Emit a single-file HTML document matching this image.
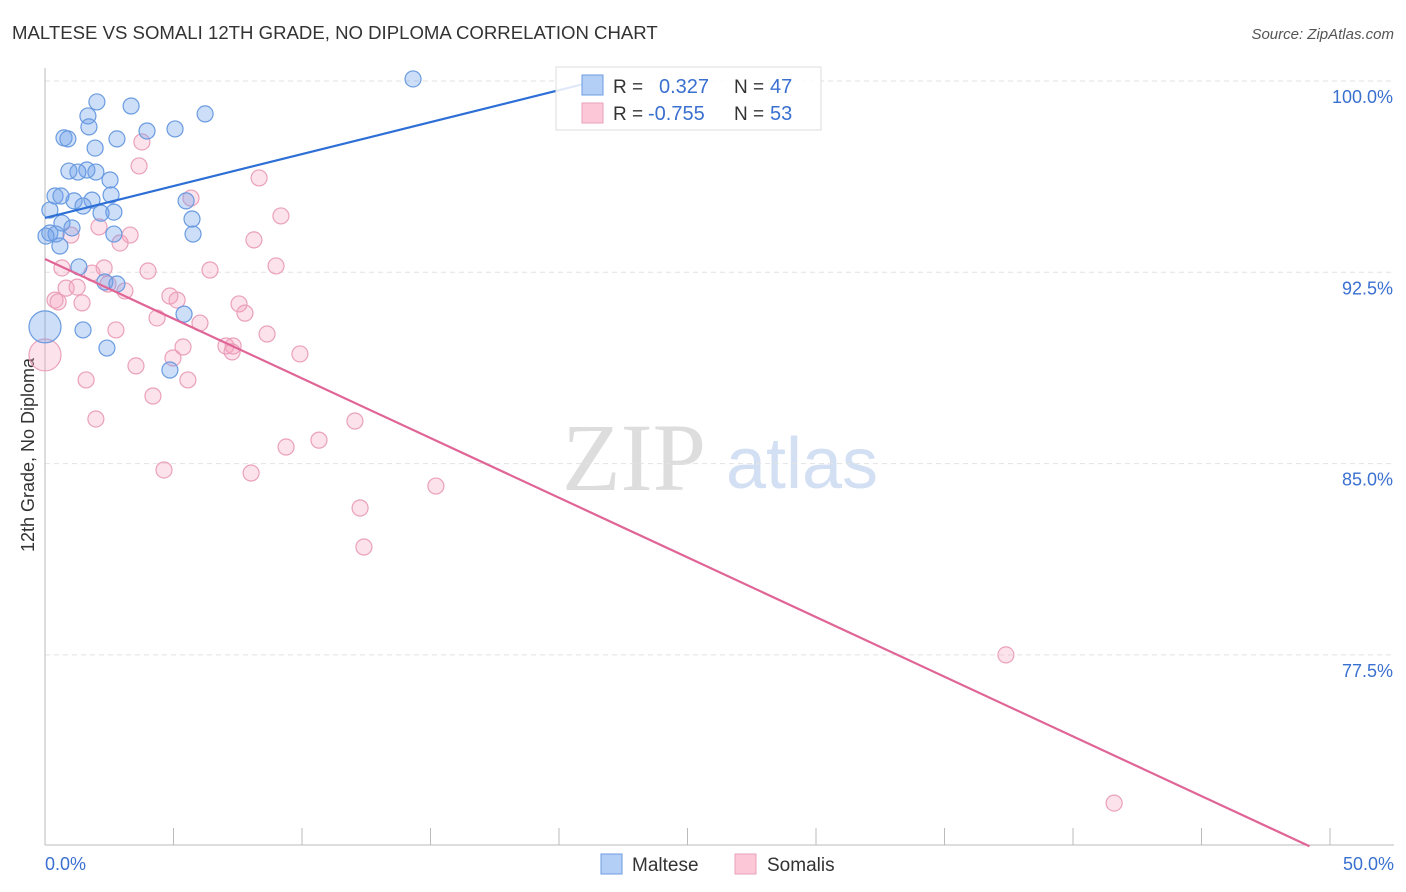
<!DOCTYPE html>
<html><head><meta charset="utf-8"><style>
body{margin:0;background:#fff;font-family:"Liberation Sans",sans-serif;}
svg{display:block}
</style></head><body>
<svg id="c" width="1406" height="892">
<text x="12" y="39" font-size="18.6" fill="#333">MALTESE VS SOMALI 12TH GRADE, NO DIPLOMA CORRELATION CHART</text>
<text x="1394" y="39" font-size="15" fill="#555" font-style="italic" text-anchor="end">Source: ZipAtlas.com</text>
<text x="34" y="455" font-size="18" fill="#333" transform="rotate(-90 34 455)" text-anchor="middle">12th Grade, No Diploma</text>
<text x="634" y="490" font-size="96" fill="#ddd" font-family="Liberation Serif,serif" text-anchor="middle">ZIP</text>
<text x="802" y="488" font-size="72" fill="#d3e0f3" text-anchor="middle">atlas</text>
<g id="grid"></g><g id="marks"></g>
<g>
<rect x="556" y="67" width="265" height="63" fill="#fff" fill-opacity="0.85" stroke="#ddd"/>
<rect x="582" y="75" width="21" height="20" fill="#b4cff5" stroke="#6a9be0"/>
<rect x="582" y="103" width="21" height="20" fill="#fcc8d8" stroke="#eaa0ba"/>
<text x="613" y="93" font-size="19" fill="#333">R = </text><text x="659" y="93" font-size="20" fill="#3a70d0">0.327</text>
<text x="734" y="93" font-size="19" fill="#333">N = </text><text x="770" y="93" font-size="20" fill="#3a70d0">47</text>
<text x="613" y="120" font-size="19" fill="#333">R = </text><text x="648" y="120" font-size="20" fill="#3a70d0">-0.755</text>
<text x="734" y="120" font-size="19" fill="#333">N = </text><text x="770" y="120" font-size="20" fill="#3a70d0">53</text>
</g>
<g>
<rect x="601" y="854" width="21" height="20" fill="#b4cff5" stroke="#6a9be0"/>
<text x="632" y="871" font-size="19" fill="#333">Maltese</text>
<rect x="735" y="854" width="21" height="20" fill="#fcc8d8" stroke="#eaa0ba"/>
<text x="767" y="871" font-size="19" fill="#333">Somalis</text>
</g>
</svg>
<script>
const yTicks=[100,92.5,85,77.5];
const yTickLabels=["100.0%","92.5%","85.0%","77.5%"];
const xTickVals=[0,5,10,15,20,25,30,35,40,45,50];
const blueX=[14.32,2.02,3.35,1.67,6.23,1.71,3.97,5.06,0.74,0.89,2.80,1.95,0.93,1.63,1.28,1.98,2.53,0.39,0.62,2.57,1.13,1.83,5.49,1.48,2.68,2.18,5.72,0.66,1.05,0.19,0.43,5.76,2.68,0.58,1.32,2.33,2.80,5.41,1.48,0,2.41,4.86,0.19,0.04];
const blueY=[100.08,99.18,99.02,98.63,98.71,98.20,98.04,98.12,97.77,97.73,97.73,97.37,96.47,96.51,96.43,96.43,96.12,95.49,95.49,95.53,95.30,95.33,95.30,95.10,94.86,94.82,94.59,94.43,94.24,94.04,94.00,94.00,94.00,93.53,92.71,92.12,92.04,90.86,90.24,90.36,89.53,88.67,94.94,93.92];
const pinkX=[3.77,3.66,8.33,5.68,9.18,2.10,1.01,3.31,8.13,2.92,0.66,4.01,6.42,8.99,2.30,1.83,0.82,1.25,2.45,3.11,0.39,1.44,4.86,5.14,7.55,7.78,4.36,6.03,2.76,8.64,7.04,7.32,7.28,5.37,9.92,0,4.98,3.54,1.60,5.56,4.20,1.98,12.06,10.66,9.38,4.63,8.02,15.21,12.26,12.41,37.39,41.60,0.51];
const pinkY=[97.61,96.67,96.20,95.41,94.71,94.28,93.96,93.96,93.77,93.65,92.67,92.55,92.59,92.75,92.67,92.47,91.88,91.92,92.04,91.77,91.41,91.30,91.57,91.41,91.26,90.90,90.71,90.51,90.24,90.08,89.61,89.61,89.38,89.57,89.30,89.26,89.14,88.83,88.28,88.28,87.65,86.75,86.67,85.92,85.65,84.75,84.63,84.12,83.26,81.73,77.50,71.69,91.34];
const blueTrend=[[0,94.63],[21.6,100.04]];
const pinkTrend=[[0,93.02],[49.2,70.0]];
const NS="http://www.w3.org/2000/svg";
const X=v=>45+v/50*1285, Y=v=>81+(100-v)/7.5*191.3;
const grid=document.getElementById('grid'), marks=document.getElementById('marks');
function mk(tag,attrs,parent){const e=document.createElementNS(NS,tag);for(const k in attrs)e.setAttribute(k,attrs[k]);parent.appendChild(e);return e;}
yTicks.forEach((t,i)=>{
 const l=mk('line',{x1:45,x2:1394,y1:Y(t),y2:Y(t),stroke:'#e2e2e2','stroke-dasharray':'5,4'},grid);
 
 
 const tx=mk('text',{x:1393,y:Y(t)+22,'font-size':18,fill:'#3a70d0','text-anchor':'end'},grid);
 tx.textContent=yTickLabels[i];
 
 
});
const ax=mk('line',{x1:45,x2:45,y1:68,y2:845,stroke:'#bbb'},grid);


const bx=mk('line',{x1:45,x2:1394,y1:845,y2:845,stroke:'#bbb'},grid);


xTickVals.forEach(v=>{
 const t=mk('line',{x1:X(v),x2:X(v),y1:828,y2:845,stroke:'#bbb'},grid);
 
 
});
const xl0=mk('text',{x:45,y:870,'font-size':18,fill:'#3a70d0'},grid);xl0.textContent='0.0%';


const xl1=mk('text',{x:1394,y:870,'font-size':18,fill:'#3a70d0','text-anchor':'end'},grid);xl1.textContent='50.0%';


function pts(xs,ys,fill,stroke,name){xs.forEach((v,i)=>{
 const r=(v===0)?16:8;
 const c=mk('circle',{cx:X(v),cy:Y(ys[i]),r:r,fill:fill,stroke:stroke,'stroke-width':1.2},marks);
 
 
});}
pts(pinkX,pinkY,'rgba(245,160,190,0.3)','#eaa0ba','somalis-point');
pts(blueX,blueY,'rgba(110,160,235,0.35)','#6a9be0','maltese-point');
const bl=mk('line',{x1:X(blueTrend[0][0]),y1:Y(blueTrend[0][1]),x2:X(blueTrend[1][0]),y2:Y(blueTrend[1][1]),stroke:'#2d6fd6','stroke-width':2.2},marks);


const pl=mk('line',{x1:X(pinkTrend[0][0]),y1:Y(pinkTrend[0][1]),x2:X(pinkTrend[1][0]),y2:Y(pinkTrend[1][1]),stroke:'#e06596','stroke-width':2.2},marks);


</script>
</body></html>
